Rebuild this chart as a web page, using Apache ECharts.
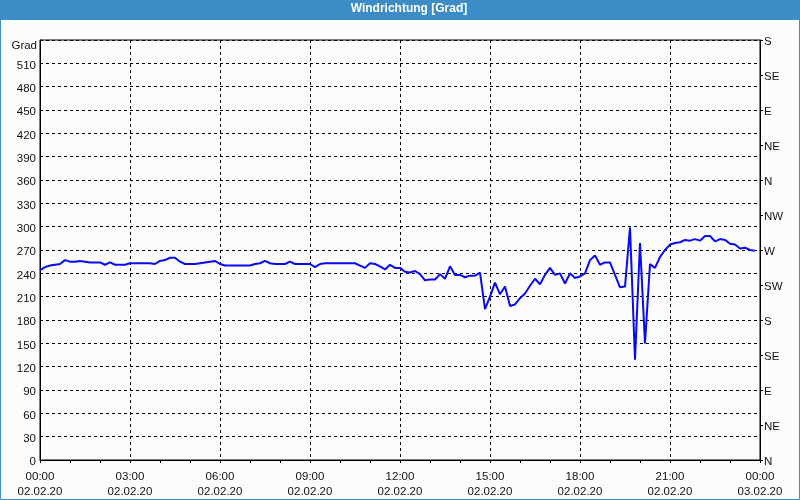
<!DOCTYPE html>
<html>
<head>
<meta charset="utf-8">
<script src="https://cdn.jsdelivr.net/npm/echarts@6/dist/echarts.min.js"></script>
<style>html,body{margin:0;padding:0;background:#fbfcfb;}#c{width:800px;height:500px;}</style>
</head>
<body>
<div id="c"></div>
<script>
// Wind direction every 10 minutes, 02.02.20 00:00 .. 23:50
var direction = [
  244, 248, 250, 251, 252, 257, 255, 255, 256, 255, 254, 254,
  254, 251, 254, 251, 251, 251, 253, 253, 253, 253, 253, 252,
  256, 257, 260, 260, 255, 252, 252, 252, 253, 254, 255, 256,
  252, 250, 250, 250, 250, 250, 250, 252, 253, 256, 253, 252,
  252, 252, 255, 252, 252, 252, 252, 248, 252, 253, 253, 253,
  253, 253, 253, 253, 250, 247, 253, 252, 249, 245, 251, 247,
  247, 242, 241, 243, 239, 231, 232, 232, 239, 233, 249, 238,
  238, 235, 237, 237, 241, 194, 210, 228, 213, 223, 198, 200,
  208, 214, 224, 233, 226, 238, 247, 238, 240, 227, 240, 234,
  236, 240, 257, 263, 251, 254, 254, 238, 222, 223, 299, 129,
  279, 150, 252, 247, 261, 270, 277, 279, 280, 283, 282, 284,
  282, 288, 288, 281, 284, 283, 278, 277, 272, 273, 270, 269
];
var stepMinutes = 10;
var timeLabels = ['00:00','03:00','06:00','09:00','12:00','15:00','18:00','21:00','00:00'];
var dateLabels = ['02.02.20','02.02.20','02.02.20','02.02.20','02.02.20','02.02.20','02.02.20','02.02.20','03.02.20'];
var compassLabels = ['N','NE','E','SE','S','SW','W','NW','N','NE','E','SE','S'];
var degreeMax = 540;

var seriesData = direction.map(function (v, i) { return [i * stepMinutes / 60, v]; });

var chart = echarts.init(document.getElementById('c'), null, {renderer: 'canvas'});
var blue = '#3c8dc6';
var font = 'Liberation Sans';
chart.setOption({
  animation: false,
  backgroundColor: '#fbfcfb',
  title: {
    text: 'Windrichtung [Grad]',
    left: 409, top: 3, padding: 0, textAlign: 'center',
    textStyle: {color: '#ffffff', fontFamily: font, fontWeight: 'bold', fontSize: 12}
  },
  graphic: [
    {type: 'rect', z: -1, silent: true, shape: {x: 0, y: 0, width: 800, height: 20}, style: {fill: blue}},
    {type: 'rect', z: -1, silent: true, shape: {x: 0.5, y: 0.5, width: 799, height: 499}, style: {fill: null, stroke: blue, lineWidth: 1}}
  ],
  grid: {left: 40, right: 40, top: 40, bottom: 40, show: true, borderColor: '#000', borderWidth: 1, backgroundColor: 'transparent'},
  xAxis: {
    type: 'value', min: 0, max: 24, interval: 3,
    axisLine: {show: true, lineStyle: {color: '#000', width: 1}},
    axisTick: {show: true, length: 3, lineStyle: {color: '#000'}},
    minorTick: {show: true, splitNumber: 3, length: 3, lineStyle: {color: '#000'}},
    splitLine: {show: true, lineStyle: {color: '#000', type: [3, 3], width: 1}},
    axisLabel: {
      margin: 9, lineHeight: 15, color: '#111', fontFamily: font, fontSize: 11.5,
      showMinLabel: true, showMaxLabel: true,
      formatter: function (v) { var i = Math.round(v / 3); return timeLabels[i] + '\n' + dateLabels[i]; }
    }
  },
  yAxis: [
    {
      type: 'value', min: 0, max: degreeMax, interval: 30, position: 'left',
      name: 'Grad', nameLocation: 'end', nameGap: -6,
      nameTextStyle: {align: 'right', verticalAlign: 'middle', padding: [0, 3, 0, 0], color: '#111', fontFamily: font, fontSize: 11.5},
      axisLine: {show: true, lineStyle: {color: '#000', width: 1}},
      axisTick: {show: false},
      splitLine: {show: true, lineStyle: {color: '#000', type: [3, 3], width: 1}},
      axisLabel: {
        margin: 4, color: '#111', fontFamily: font, fontSize: 11.5, verticalAlign: 'top', lineHeight: 4,
        formatter: function (v) { return v >= degreeMax ? '' : String(v); }
      }
    },
    {
      type: 'value', min: 0, max: degreeMax, interval: 45, position: 'right',
      axisLine: {show: true, lineStyle: {color: '#000', width: 1}},
      axisTick: {show: true, length: 3, lineStyle: {color: '#000'}},
      splitLine: {show: false},
      axisLabel: {
        margin: 4, color: '#111', fontFamily: font, fontSize: 11.5, verticalAlign: 'top', lineHeight: 4,
        showMinLabel: true, showMaxLabel: true,
        formatter: function (v) { return compassLabels[Math.round(v / 45)]; }
      }
    }
  ],
  series: [{
    type: 'line', yAxisIndex: 0, data: seriesData, showSymbol: false,
    lineStyle: {color: '#0a0af0', width: 2}, z: 5
  }]
});
</script>
</body>
</html>
